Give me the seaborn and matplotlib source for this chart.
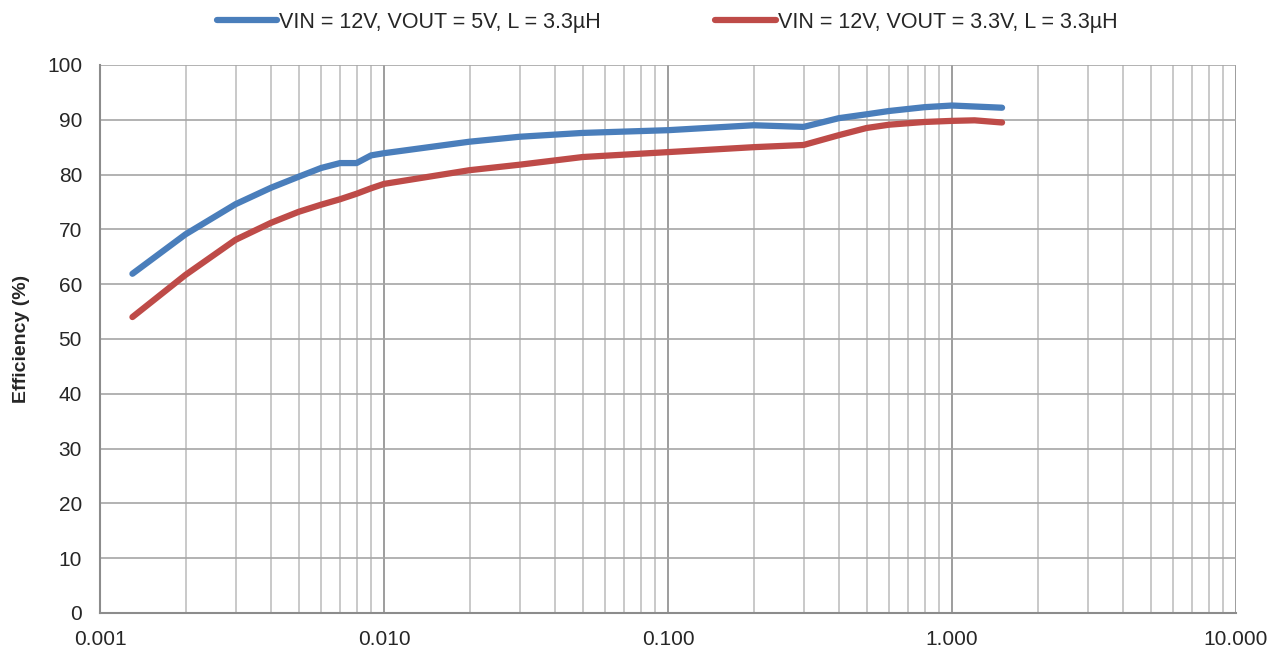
import numpy as np
import pandas as pd
import matplotlib
matplotlib.use("Agg")
import matplotlib.pyplot as plt
import seaborn as sns
from matplotlib.ticker import FixedLocator, FixedFormatter, LogLocator, NullFormatter

# load current (A) and efficiency (%)
current_5v = [0.0013, 0.002, 0.003, 0.004, 0.005, 0.006, 0.007, 0.008, 0.009, 0.010,
              0.02, 0.03, 0.05, 0.1, 0.2, 0.3, 0.4, 0.5, 0.6, 0.8, 1.0, 1.5]
eff_5v = [61.9, 69.1, 74.6, 77.6, 79.6, 81.2, 82.1, 82.1, 83.5, 83.9,
          86.0, 86.9, 87.6, 88.1, 89.0, 88.7, 90.3, 91.0, 91.6, 92.3, 92.6, 92.2]

current_33v = [0.0013, 0.002, 0.003, 0.004, 0.005, 0.006, 0.007, 0.008, 0.009, 0.010,
               0.02, 0.03, 0.05, 0.1, 0.2, 0.3, 0.4, 0.5, 0.6, 0.8, 1.0, 1.2, 1.5]
eff_33v = [54.0, 61.7, 68.1, 71.2, 73.2, 74.5, 75.5, 76.5, 77.5, 78.3,
           80.8, 81.8, 83.2, 84.1, 85.0, 85.4, 87.2, 88.5, 89.1, 89.6, 89.8, 89.9, 89.5]

labels = ["VIN = 12V, VOUT = 5V, L = 3.3µH", "VIN = 12V, VOUT = 3.3V, L = 3.3µH"]
colors = ["#4a7ebb", "#be4b48"]

x_ticks = [0.001, 0.01, 0.1, 1, 10]
x_ticklabels = ["0.001", "0.010", "0.100", "1.000", "10.000"]
y_ticks = list(range(0, 101, 10))

df = pd.concat([
    pd.DataFrame({"current": current_5v, "eff": eff_5v, "cond": labels[0]}),
    pd.DataFrame({"current": current_33v, "eff": eff_33v, "cond": labels[1]}),
])

sns.set_style("white")
plt.rcParams["font.family"] = ["Liberation Sans", "DejaVu Sans"]

fig = plt.figure(figsize=(12.83, 6.53), dpi=100)
ax = fig.add_axes([0.078, 0.0613, 0.8854, 0.8392])

sns.lineplot(data=df, x="current", y="eff", hue="cond", palette=colors,
             linewidth=4.5, ax=ax, legend=False, sort=True, zorder=3)
for line in ax.get_lines():
    line.set_solid_capstyle("round")
    line.set_solid_joinstyle("round")

ax.set_xscale("log")
ax.set_xlim(0.001, 10)
ax.set_ylim(0, 100)
ax.xaxis.set_major_locator(FixedLocator(x_ticks))
ax.xaxis.set_major_formatter(FixedFormatter(x_ticklabels))
ax.xaxis.set_minor_locator(LogLocator(base=10, subs=np.arange(2, 10)))
ax.xaxis.set_minor_formatter(NullFormatter())
ax.set_yticks(y_ticks)

ax.grid(True, which="major", axis="x", color="#8c8c8c", linewidth=1.2)
ax.grid(True, which="minor", axis="x", color="#c0c0c0", linewidth=1.2)
ax.grid(True, which="major", axis="y", color="#a6a6a6", linewidth=1.2)

for side in ["top", "right"]:
    ax.spines[side].set_visible(False)
for side in ["left", "bottom"]:
    ax.spines[side].set_color("#8c8c8c")
    ax.spines[side].set_linewidth(1.5)

ax.tick_params(axis="both", which="both", length=0, labelsize=15)
ax.tick_params(axis="y", pad=13)
ax.tick_params(axis="x", pad=12)
ax.set_xlabel("")
ax.set_ylabel("Efficiency (%)", fontsize=14, fontweight="bold", labelpad=12)

handles = [plt.Line2D([], [], color=c, linewidth=4.5, solid_capstyle="round") for c in colors]
fig.legend(handles, labels, loc="upper center", bbox_to_anchor=(0.52, 1.012), ncol=2,
           frameon=False, fontsize=15.5, handlelength=2.8, handletextpad=0.1,
           columnspacing=5.3)

fig.savefig("out.png", dpi=100)
